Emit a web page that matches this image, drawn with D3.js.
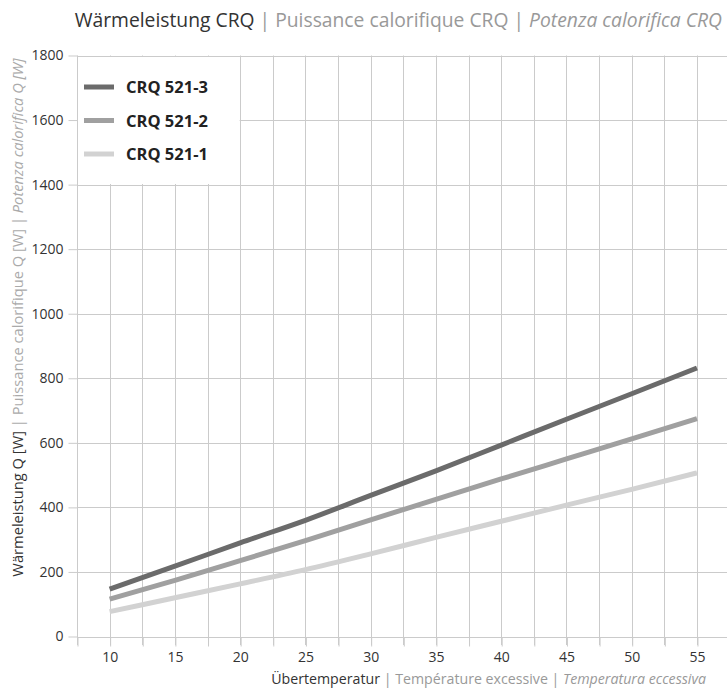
<!DOCTYPE html>
<html>
<head>
<meta charset="utf-8">
<script src="https://cdn.jsdelivr.net/npm/d3@7/dist/d3.min.js"></script>
<style>
  html, body { margin: 0; padding: 0; background: #fff; }
  svg { display: block; font-family: "Open Sans", "Noto Sans", sans-serif; }
</style>
</head>
<body>
<svg id="chart" width="727" height="698"></svg>
<script>
// ---- data ----
const temps = [10, 15, 20, 25, 30, 35, 40, 45, 50, 55];
const crq3 = [147, 218, 290, 360, 437, 513, 593, 673, 752, 832];
const crq2 = [116, 174, 235, 297, 361, 425, 488, 550, 612, 675];
const crq1 = [77, 120, 163, 207, 256, 307, 357, 407, 456, 507];
const seriesNames = ["CRQ 521-3", "CRQ 521-2", "CRQ 521-1"];
const seriesColors = ["#6b6b6b", "#a0a0a0", "#d2d2d2"];
const yTicks = [0, 200, 400, 600, 800, 1000, 1200, 1400, 1600, 1800];
const xTicks = [7.5, 10, 12.5, 15, 17.5, 20, 22.5, 25, 27.5, 30, 32.5, 35, 37.5, 40, 42.5, 45, 47.5, 50, 52.5, 55];
const xLabels = [10, 15, 20, 25, 30, 35, 40, 45, 50, 55];
const titleParts = ["Wärmeleistung CRQ", " | Puissance calorifique CRQ | ", "Potenza calorifica CRQ"];
const yLabelParts = ["Wärmeleistung Q [W]", " | Puissance calorifique Q [W] | ", "Potenza calorifica Q [W]"];
const xLabelParts = ["Übertemperatur", " | Température excessive | ", "Temperatura eccessiva"];

const series = [crq3, crq2, crq1];

const svg = d3.select("#chart");
const x = d3.scaleLinear().domain([7.5, 57.5]).range([77, 729.6]);
const y = d3.scaleLinear().domain([0, 1800]).range([636.5, 55.5]);
const gridColor = "#cbcbcb";

// grid
const grid = svg.append("g");
grid.selectAll("line.h").data(yTicks).join("line")
  .attr("x1", 77).attr("x2", 727)
  .attr("y1", d => Math.round(y(d)) + 0.5).attr("y2", d => Math.round(y(d)) + 0.5)
  .attr("stroke", gridColor).attr("stroke-width", 1);
grid.selectAll("line.v").data(xTicks.filter(d => d >= 10)).join("line")
  .attr("x1", d => Math.round(x(d)) + 0.5).attr("x2", d => Math.round(x(d)) + 0.5)
  .attr("y1", y(1800)).attr("y2", 645)
  .attr("stroke", gridColor).attr("stroke-width", 1);

// axes
const yAxis = svg.append("g").attr("transform", "translate(77.5,0)")
  .call(d3.axisLeft(y).tickValues(yTicks).tickSizeInner(9).tickSizeOuter(0).tickPadding(5)
    .tickFormat(d3.format("d")));
const xAxis = svg.append("g").attr("transform", `translate(0,${Math.round(y(0)) + 0.5})`)
  .call(d3.axisBottom(x).tickValues(xTicks).tickSizeInner(9).tickSizeOuter(0).tickPadding(6)
    .tickFormat(d => xLabels.includes(d) ? d : ""));
[yAxis, xAxis].forEach(a => {
  a.select(".domain").remove();
  a.selectAll(".tick line").attr("stroke", gridColor);
  a.selectAll(".tick text").attr("fill", "#333").attr("font-size", 14)
    .attr("font-family", "'Open Sans', sans-serif");
});
xAxis.selectAll(".tick line").attr("transform", "translate(0.5,0)");
svg.append("line").attr("x1", 77.5).attr("x2", 77.5).attr("y1", y(1800)).attr("y2", 645)
  .attr("stroke", gridColor);

// legend box
svg.append("rect").attr("x", 78).attr("y", 57).attr("width", x(20) - 78 - 0.5).attr("height", 127)
  .attr("fill", "#fff");
const leg = svg.append("g");
seriesNames.forEach((n, i) => {
  const cy = 87 + i * 33.5;
  leg.append("line").attr("x1", 84).attr("x2", 114).attr("y1", cy).attr("y2", cy)
    .attr("stroke", seriesColors[i]).attr("stroke-width", 5);
  leg.append("text").attr("x", 126).attr("y", cy + 6).text(n)
    .attr("font-size", 16.5).attr("font-weight", "bold").attr("fill", "#222");
});

// lines
const line = d3.line().x((d, i) => x(temps[i])).y(d => y(d)).curve(d3.curveMonotoneX);
svg.append("g").selectAll("path").data(series).join("path")
  .attr("d", d => line(d)).attr("fill", "none")
  .attr("stroke", (d, i) => seriesColors[i]).attr("stroke-width", 5);

// texts
function multi(sel, parts, colors, styles) {
  parts.forEach((p, i) => {
    sel.append("tspan").text(p).attr("fill", colors[i]).attr("font-style", styles[i]);
  });
}
const title = svg.append("text").attr("x", 722).attr("y", 27).attr("text-anchor", "end")
  .attr("font-size", 19.3);
multi(title, titleParts, ["#333", "#999", "#999"], ["normal", "normal", "italic"]);

const yl = svg.append("text").attr("transform", "translate(23,317.5) rotate(-90)")
  .attr("text-anchor", "middle").attr("font-size", 14.7);
multi(yl, yLabelParts, ["#333", "#aaa", "#aaa"], ["normal", "normal", "italic"]);

const xl = svg.append("text").attr("x", 706).attr("y", 684).attr("text-anchor", "end")
  .attr("font-size", 14.2);
multi(xl, xLabelParts, ["#333", "#999", "#999"], ["normal", "normal", "italic"]);
</script>
</body>
</html>
